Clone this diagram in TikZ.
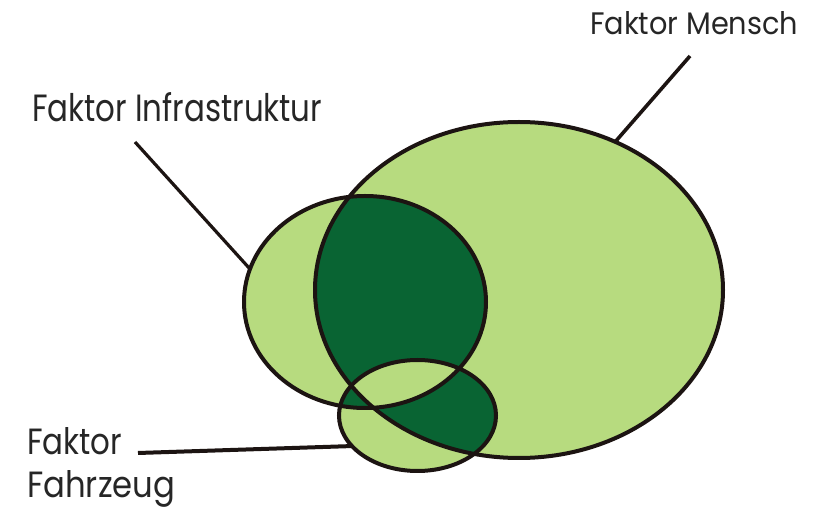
\documentclass[tikz,border=0pt]{standalone}
\usepackage{fontspec}
\usepackage{graphicx}
\setmainfont{Poppins}
\usetikzlibrary{shapes.geometric}
\definecolor{lightgreen}{RGB}{183,219,127}
\definecolor{darkgreen}{RGB}{9,100,51}
\definecolor{outline}{RGB}{28,20,18}
\tikzset{
  venn/.style={ellipse, draw=outline, line width=4pt, inner sep=0pt, outer sep=0pt},
  leader/.style={draw=outline, line width=3.2pt},
  lbl/.style={anchor=base west, inner sep=0pt, text=black!85}
}
\begin{document}
\begin{tikzpicture}[x=1pt,y=-1pt]
\useasboundingbox (0,0) rectangle (828,510);
% fills: union dark, odd-count regions light
\fill[darkgreen] (519,290) ellipse [x radius=204pt, y radius=168pt];
\fill[darkgreen] (365,302) ellipse [x radius=121pt, y radius=106pt];
\fill[darkgreen] (417.5,415.5) ellipse [x radius=78.5pt, y radius=55.5pt];
\fill[lightgreen, even odd rule]
  (519,290) ellipse [x radius=204pt, y radius=168pt]
  (365,302) ellipse [x radius=121pt, y radius=106pt]
  (417.5,415.5) ellipse [x radius=78.5pt, y radius=55.5pt];
% outlines
\node[venn, minimum width=408pt, minimum height=336pt] (mensch) at (519,290) {};
\node[venn, minimum width=242pt, minimum height=212pt] (infra) at (365,302) {};
\node[venn, minimum width=157pt, minimum height=111pt] (fahrzeug) at (417.5,415.5) {};
% labels
\node[lbl] (tmensch) at (590,35) {\resizebox{208pt}{23pt}{Faktor Mensch}};
\node[lbl] (tinfra) at (32,122) {\resizebox{290pt}{29pt}{Faktor Infrastruktur}};
\node[lbl] (tfaktor) at (27,455) {\resizebox{95pt}{27pt}{Faktor}};
\node[lbl] (tfahrzeug) at (27,498) {\resizebox{148pt}{27pt}{Fahrzeug}};
% leader lines
\coordinate (cmensch) at (690,56);
\coordinate (cinfra) at (135,142);
\coordinate (cfahrzeug) at (138,453);
\draw[leader, line width=3.6pt] (cmensch) -- (mensch.57);
\draw[leader] (cinfra) -- (infra.164);
\draw[leader, line width=4pt] (cfahrzeug) -- (fahrzeug.205);
\end{tikzpicture}
\end{document}
